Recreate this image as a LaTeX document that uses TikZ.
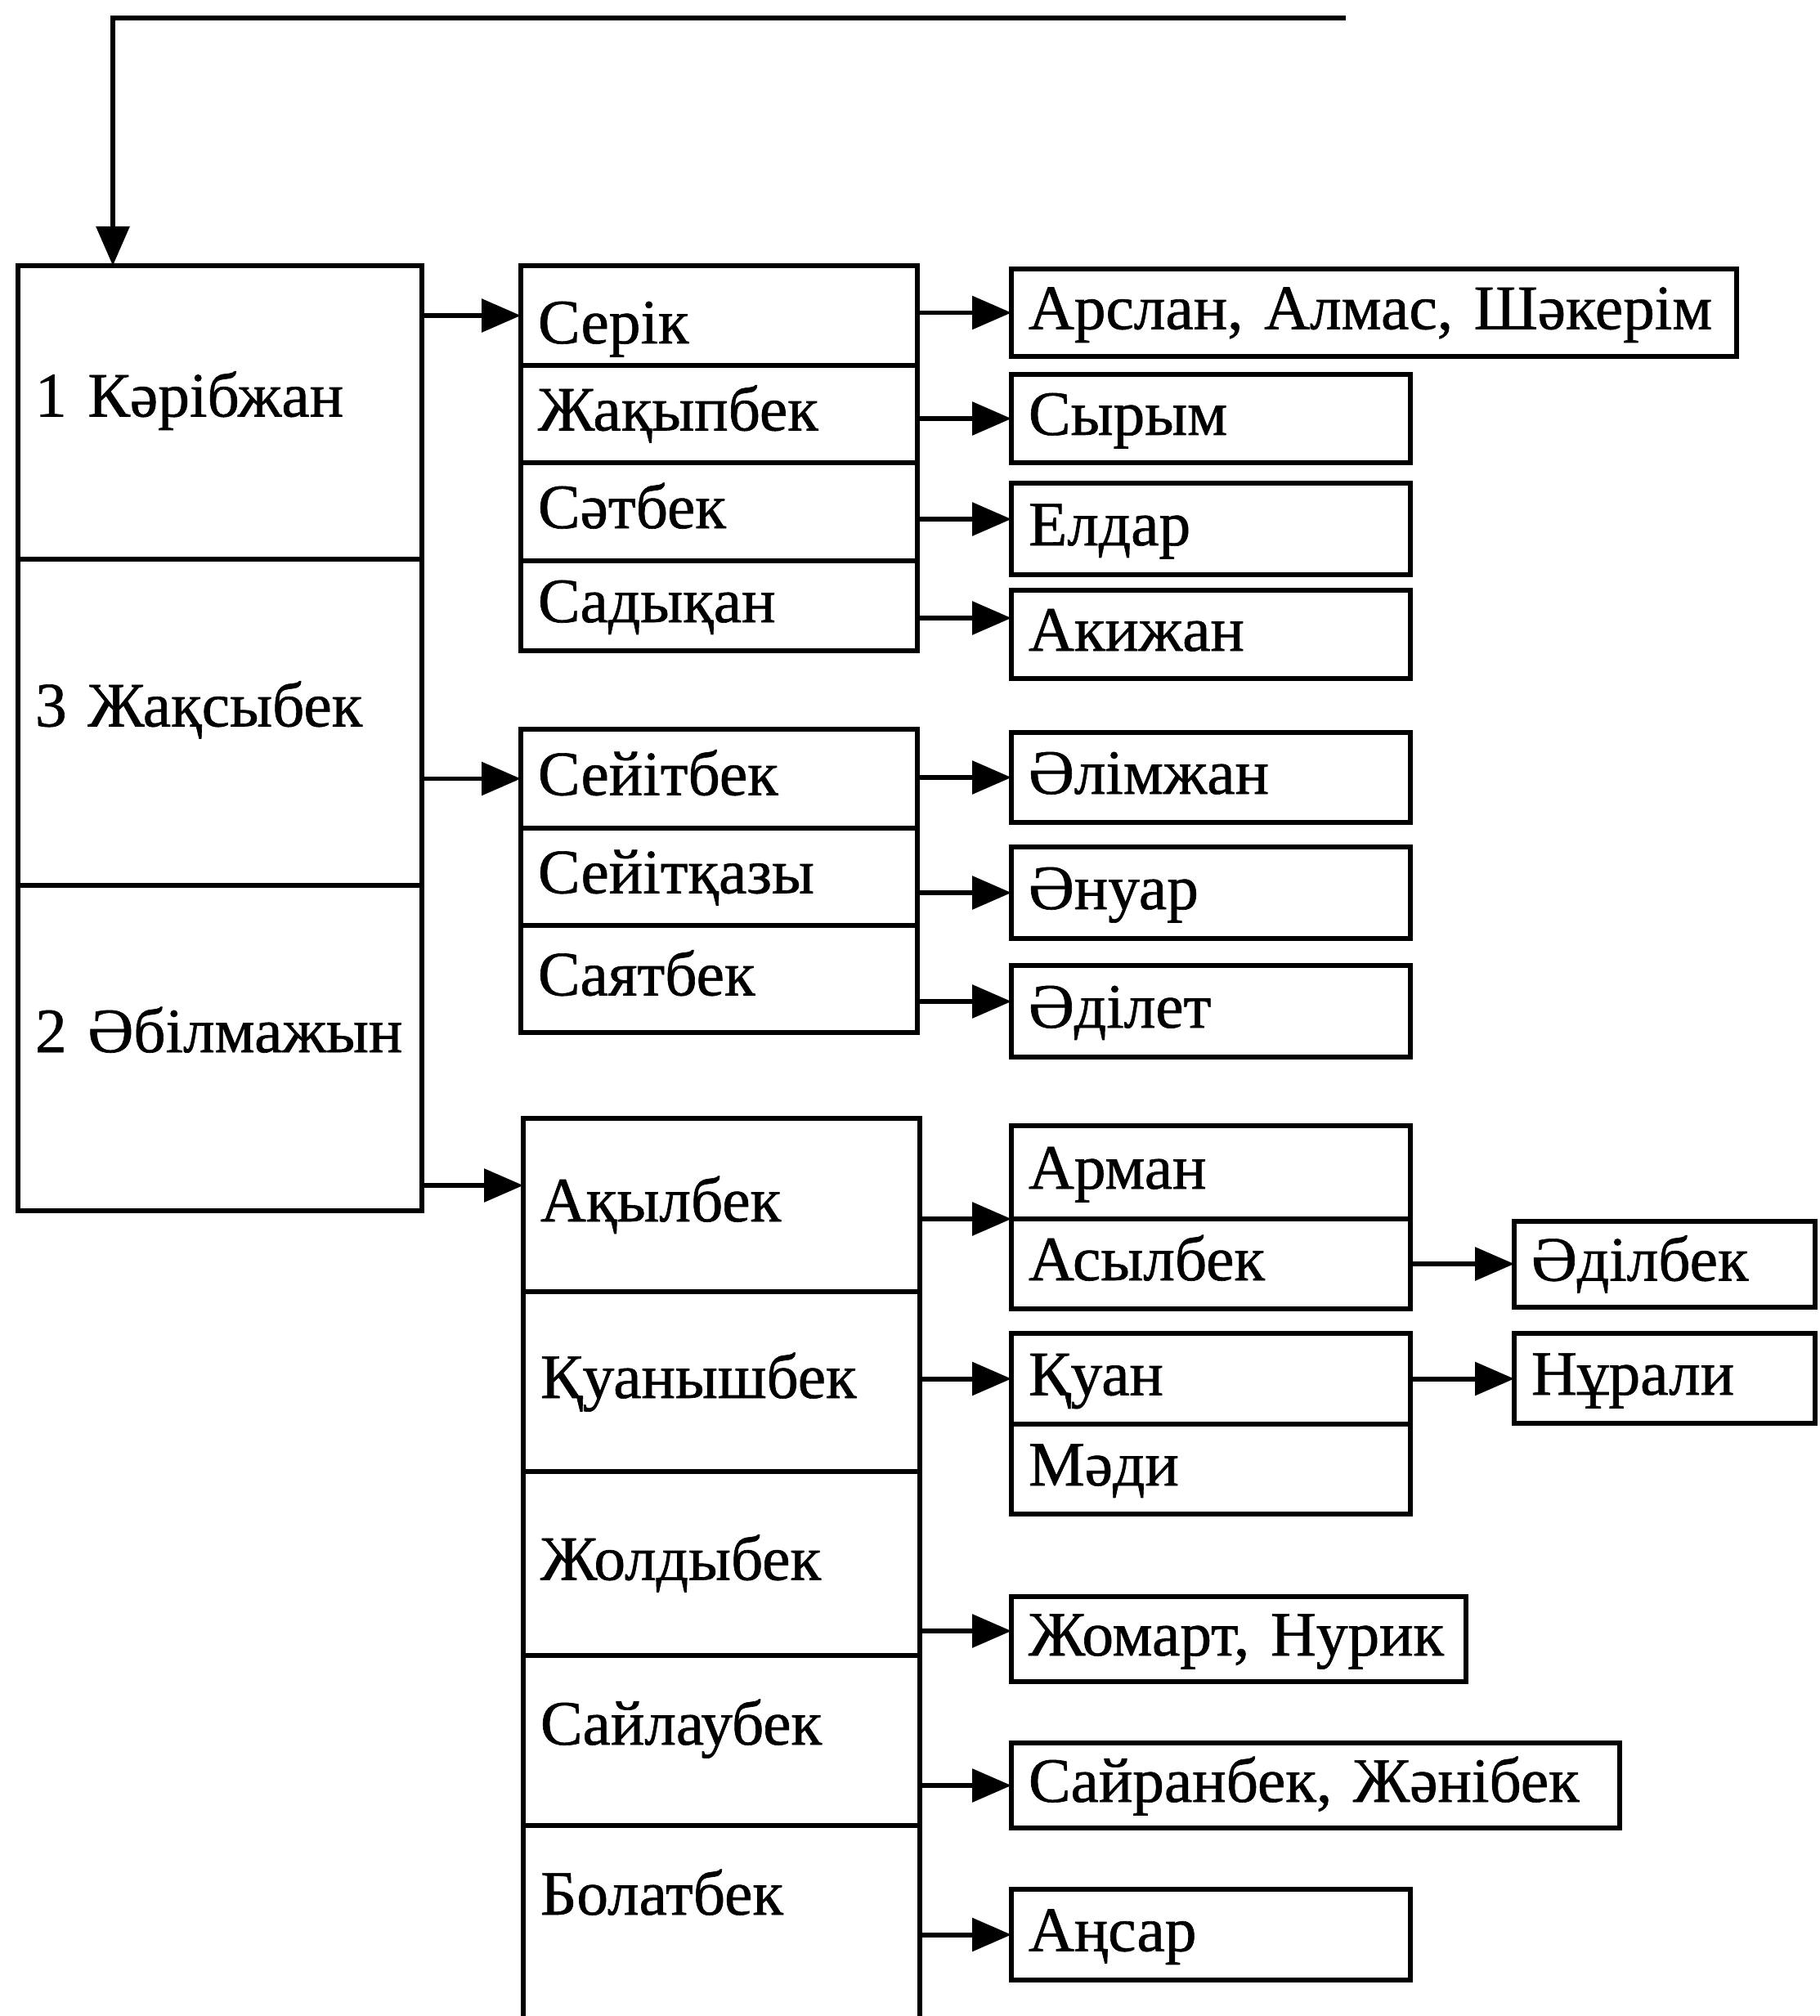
\documentclass[tikz,border=0pt]{standalone}
\usepackage{fontspec}
\setmainfont{Liberation Serif}[FakeBold=0.8]
\usepackage{tikz}
\usetikzlibrary{positioning, arrows.meta}

\tikzset{
  cell/.style={draw, line width=1.6pt, anchor=north west, outer sep=0pt,
    inner xsep=0.21cm, inner ysep=0pt, align=left,
    text height=0.55cm, text depth=0.15cm},
  rootcell/.style={cell, text width=4.52cm, text depth=0.45cm},
  sonscell/.style={cell, text width=4.43cm},
  grandcell/.style={cell, text width=4.46cm},
  arr/.style={-{Triangle[length=0.48cm, width=0.40cm]}, line width=1.7pt},
}

\begin{document}
\begin{tikzpicture}[x=1cm, y=-1cm, font=\fontsize{22}{26}\selectfont]
  \useasboundingbox (0,0) rectangle (22.25,24.66);

  % Three brothers
  \node[rootcell, minimum height=3.59cm] (kar) at (0.22,3.25) {1~Кәрібжан};
  \node[rootcell, minimum height=3.99cm] (zhaks) at (kar.south west) {3~Жақсыбек};
  \node[rootcell, minimum height=3.98cm] (abil) at (zhaks.south west) {2~Әбілмажын};

  \coordinate (back) at (16.46,0.22);
  \draw[arr] (back) -| ([xshift=1.16cm]kar.north west);

  % Sons
  \node[sonscell, minimum height=1.22cm, text height=0.83cm] (serik) at (6.37,3.25) {Серік};
  \node[sonscell, minimum height=1.19cm] (zhakyp) at (serik.south west) {Жақыпбек};
  \node[sonscell, minimum height=1.20cm] (satbek) at (zhakyp.south west) {Сәтбек};
  \node[sonscell, minimum height=1.10cm] (sadyk) at (satbek.south west) {Садықан};

  \node[sonscell, minimum height=1.21cm] (seyit) at (6.37,8.92) {Сейітбек};
  \node[sonscell, minimum height=1.19cm] (seyitk) at (seyit.south west) {Сейітқазы};
  \node[sonscell, minimum height=1.31cm] (sayat) at (seyitk.south west) {Саятбек};

  \node[sonscell, minimum height=2.12cm] (akyl) at (6.40,13.68) {Ақылбек};
  \node[sonscell, minimum height=2.20cm] (kuanysh) at (akyl.south west) {Қуанышбек};
  \node[sonscell, minimum height=2.25cm] (zholdy) at (kuanysh.south west) {Жолдыбек};
  \node[sonscell, minimum height=2.08cm, text depth=0.45cm] (saylau) at (zholdy.south west) {Сайлаубек};
  \node[sonscell, minimum height=2.67cm, text depth=1.04cm] (bolat) at (saylau.south west) {Болатбек};

  \draw[arr] (serik.west -| kar.east) -- (serik.west);
  \draw[arr] (seyit.west -| zhaks.east) -- (seyit.west);
  \coordinate (toAkyl) at ([yshift=0.24cm]akyl.west);
  \draw[arr] (toAkyl -| abil.east) -- (toAkyl);

  % Grandsons
  \node[cell, text width=8.45cm, minimum height=1.07cm] (arslan) at (12.37,3.29) {Арслан,~Алмас,~Шәкерім};
  \node[grandcell, minimum height=1.08cm] (syrym) at (12.37,4.58) {Сырым};
  \node[grandcell, minimum height=1.12cm] (eldar) at (12.37,5.91) {Елдар};
  \node[grandcell, minimum height=1.08cm] (akizh) at (12.37,7.22) {Акижан};

  \node[grandcell, minimum height=1.10cm] (alim) at (12.37,8.96) {Әлімжан};
  \node[grandcell, minimum height=1.12cm] (anuar) at (12.37,10.36) {Әнуар};
  \node[grandcell, minimum height=1.12cm] (adilet) at (12.37,11.81) {Әділет};

  \node[grandcell, minimum height=1.14cm] (arman) at (12.37,13.77) {Арман};
  \node[grandcell, minimum height=1.10cm] (asyl) at (arman.south west) {Асылбек};
  \node[grandcell, minimum height=1.11cm] (kuan) at (12.37,16.31) {Қуан};
  \node[grandcell, minimum height=1.10cm] (madi) at (kuan.south west) {Мәди};
  \node[cell, text width=5.14cm, minimum height=1.04cm] (zhomart) at (12.37,19.53) {Жомарт,~Нурик};
  \node[cell, text width=7.02cm, minimum height=1.04cm] (sayran) at (12.37,21.32) {Сайранбек,~Жәнібек};
  \node[grandcell, minimum height=1.11cm] (ansar) at (12.37,23.11) {Аңсар};

  \coordinate (toEldar) at ([yshift=0.12cm]eldar.west);
  \coordinate (toAkizh) at ([yshift=0.20cm]akizh.west);
  \coordinate (toAdilet) at ([yshift=0.12cm]adilet.west);
  \coordinate (toZhomart) at ([yshift=0.10cm]zhomart.west);

  \draw[arr] (arslan.west -| serik.east) -- (arslan.west);
  \draw[arr] (syrym.west -| zhakyp.east) -- (syrym.west);
  \draw[arr] (toEldar -| satbek.east) -- (toEldar);
  \draw[arr] (toAkizh -| sadyk.east) -- (toAkizh);
  \draw[arr] (alim.west -| seyit.east) -- (alim.west);
  \draw[arr] (anuar.west -| seyitk.east) -- (anuar.west);
  \draw[arr] (toAdilet -| sayat.east) -- (toAdilet);
  \draw[arr] (arman.south west -| akyl.east) -- (arman.south west);
  \draw[arr] (kuan.west -| kuanysh.east) -- (kuan.west);
  \draw[arr] (toZhomart -| zholdy.east) -- (toZhomart);
  \draw[arr] (sayran.west -| saylau.east) -- (sayran.west);
  \draw[arr] (ansar.west -| bolat.east) -- (ansar.west);

  % Great-grandsons
  \node[cell, text width=3.26cm, minimum height=1.05cm] (adilbek) at (18.52,14.94) {Әділбек};
  \node[cell, text width=3.26cm, minimum height=1.10cm] (nurali) at (18.52,16.31) {Нұрали};

  \draw[arr] (asyl.east) -- (adilbek.west |- asyl.east);
  \draw[arr] (kuan.east) -- (nurali.west |- kuan.east);
\end{tikzpicture}
\end{document}
